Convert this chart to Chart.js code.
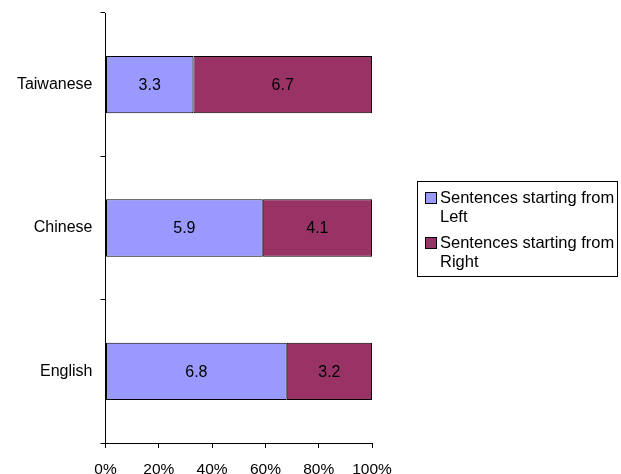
<!DOCTYPE html>
<html>
<head>
<meta charset="utf-8">
<script src="https://cdn.jsdelivr.net/npm/chart.js@4/dist/chart.umd.min.js"></script>
<style>
  body { margin: 0; background: #fff; }
  #wrap { position: relative; width: 621px; height: 474px; }
  #legend {
    position: absolute; left: 417px; top: 181px; width: 199px; height: 94px;
    border: 1px solid #000; font-family: "Liberation Sans", Arial, sans-serif;
    font-size: 16.5px; line-height: 18.5px; color: #000; box-sizing: content-box;
  }
  .item { position: absolute; left: 22px; width: 180px; }
  .sw { position: absolute; left: -15px; top: 4px; width: 10px; height: 10px; border: 1px solid #000; }
</style>
</head>
<body>
<div id="wrap">
  <canvas id="chart" width="621" height="474"></canvas>
  <div id="legend"></div>
</div>
<script>
const categories = ["Taiwanese", "Chinese", "English"];
const fromLeft = [3.3, 5.9, 6.8];
const fromRight = [6.7, 4.1, 3.2];
const seriesNames = ["Sentences starting from Left", "Sentences starting from Right"];
const seriesColors = ["#9999FF", "#993366"];
const tickValues = [0, 20, 40, 60, 80, 100];

const totals = fromLeft.map((v, i) => v + fromRight[i]);
const pct = (arr) => arr.map((v, i) => v / totals[i] * 100);
const raw = [fromLeft, fromRight];

const font = "Liberation Sans";

const valueLabels = {
	id: 'valueLabels',
	afterDatasetsDraw(chart) {
		const ctx = chart.ctx;
		ctx.save();
		ctx.font = "16px '" + font + "'";
		ctx.fillStyle = '#000';
		ctx.textAlign = 'center';
		ctx.textBaseline = 'middle';
		chart.data.datasets.forEach((ds, d) => {
			chart.getDatasetMeta(d).data.forEach((bar, i) => {
				const p = bar.getCenterPoint();
				ctx.fillText(raw[d][i].toFixed(1), p.x, p.y + 1);
			});
		});
		ctx.restore();
	}
};

new Chart(document.getElementById('chart'), {
	type: 'bar',
	data: {
		labels: categories,
		datasets: [pct(fromLeft), pct(fromRight)].map((data, d) => {
			return {
				label: seriesNames[d],
				data: data,
				backgroundColor: seriesColors[d],
				borderColor: '#000',
				borderWidth: 1,
				borderSkipped: false,
				categoryPercentage: 1,
				barPercentage: 0.4
			}
		})
	},
	options: {
		indexAxis: 'y',
		responsive: false,
		animation: false,
		layout: { padding: { top: 13, right: 249, left: 0, bottom: 0 } },
		plugins: { legend: { display: false }, tooltip: { enabled: false } },
		scales: {
			x: {
				stacked: true,
				min: 0,
				max: 100,
				afterBuildTicks: (axis) => { axis.ticks = tickValues.map((v) => ({ value: v })); },
				afterFit: (axis) => { axis.height = 31; },
				border: { color: '#000', width: 1 },
				grid: { drawOnChartArea: false, color: '#000', tickLength: 5 },
				ticks: {
					color: '#000',
					padding: 12,
					font: { family: font, size: 15.5 },
					callback: (v) => v + '%'
				}
			},
			y: {
				stacked: true,
				afterFit: (axis) => { axis.width = 105.5; axis.paddingTop = 0; axis.paddingBottom = 0; },
				border: { color: '#000', width: 1 },
				grid: { drawOnChartArea: false, color: '#000', tickLength: 5, offset: true },
				ticks: { color: '#000', padding: 8, font: { family: font, size: 16 } }
			}
		}
	},
	plugins: [valueLabels]
});

// legend with wrapped text
const legend = document.getElementById('legend');
seriesNames.forEach((name, d) => {
	const item = document.createElement('div');
	item.className = 'item';
	item.style.top = (6 + d * 45) + 'px';
	const sw = document.createElement('span');
	sw.className = 'sw';
	sw.style.background = seriesColors[d];
	item.appendChild(sw);
	item.appendChild(document.createTextNode(name));
	legend.appendChild(item);
});
</script>
</body>
</html>
